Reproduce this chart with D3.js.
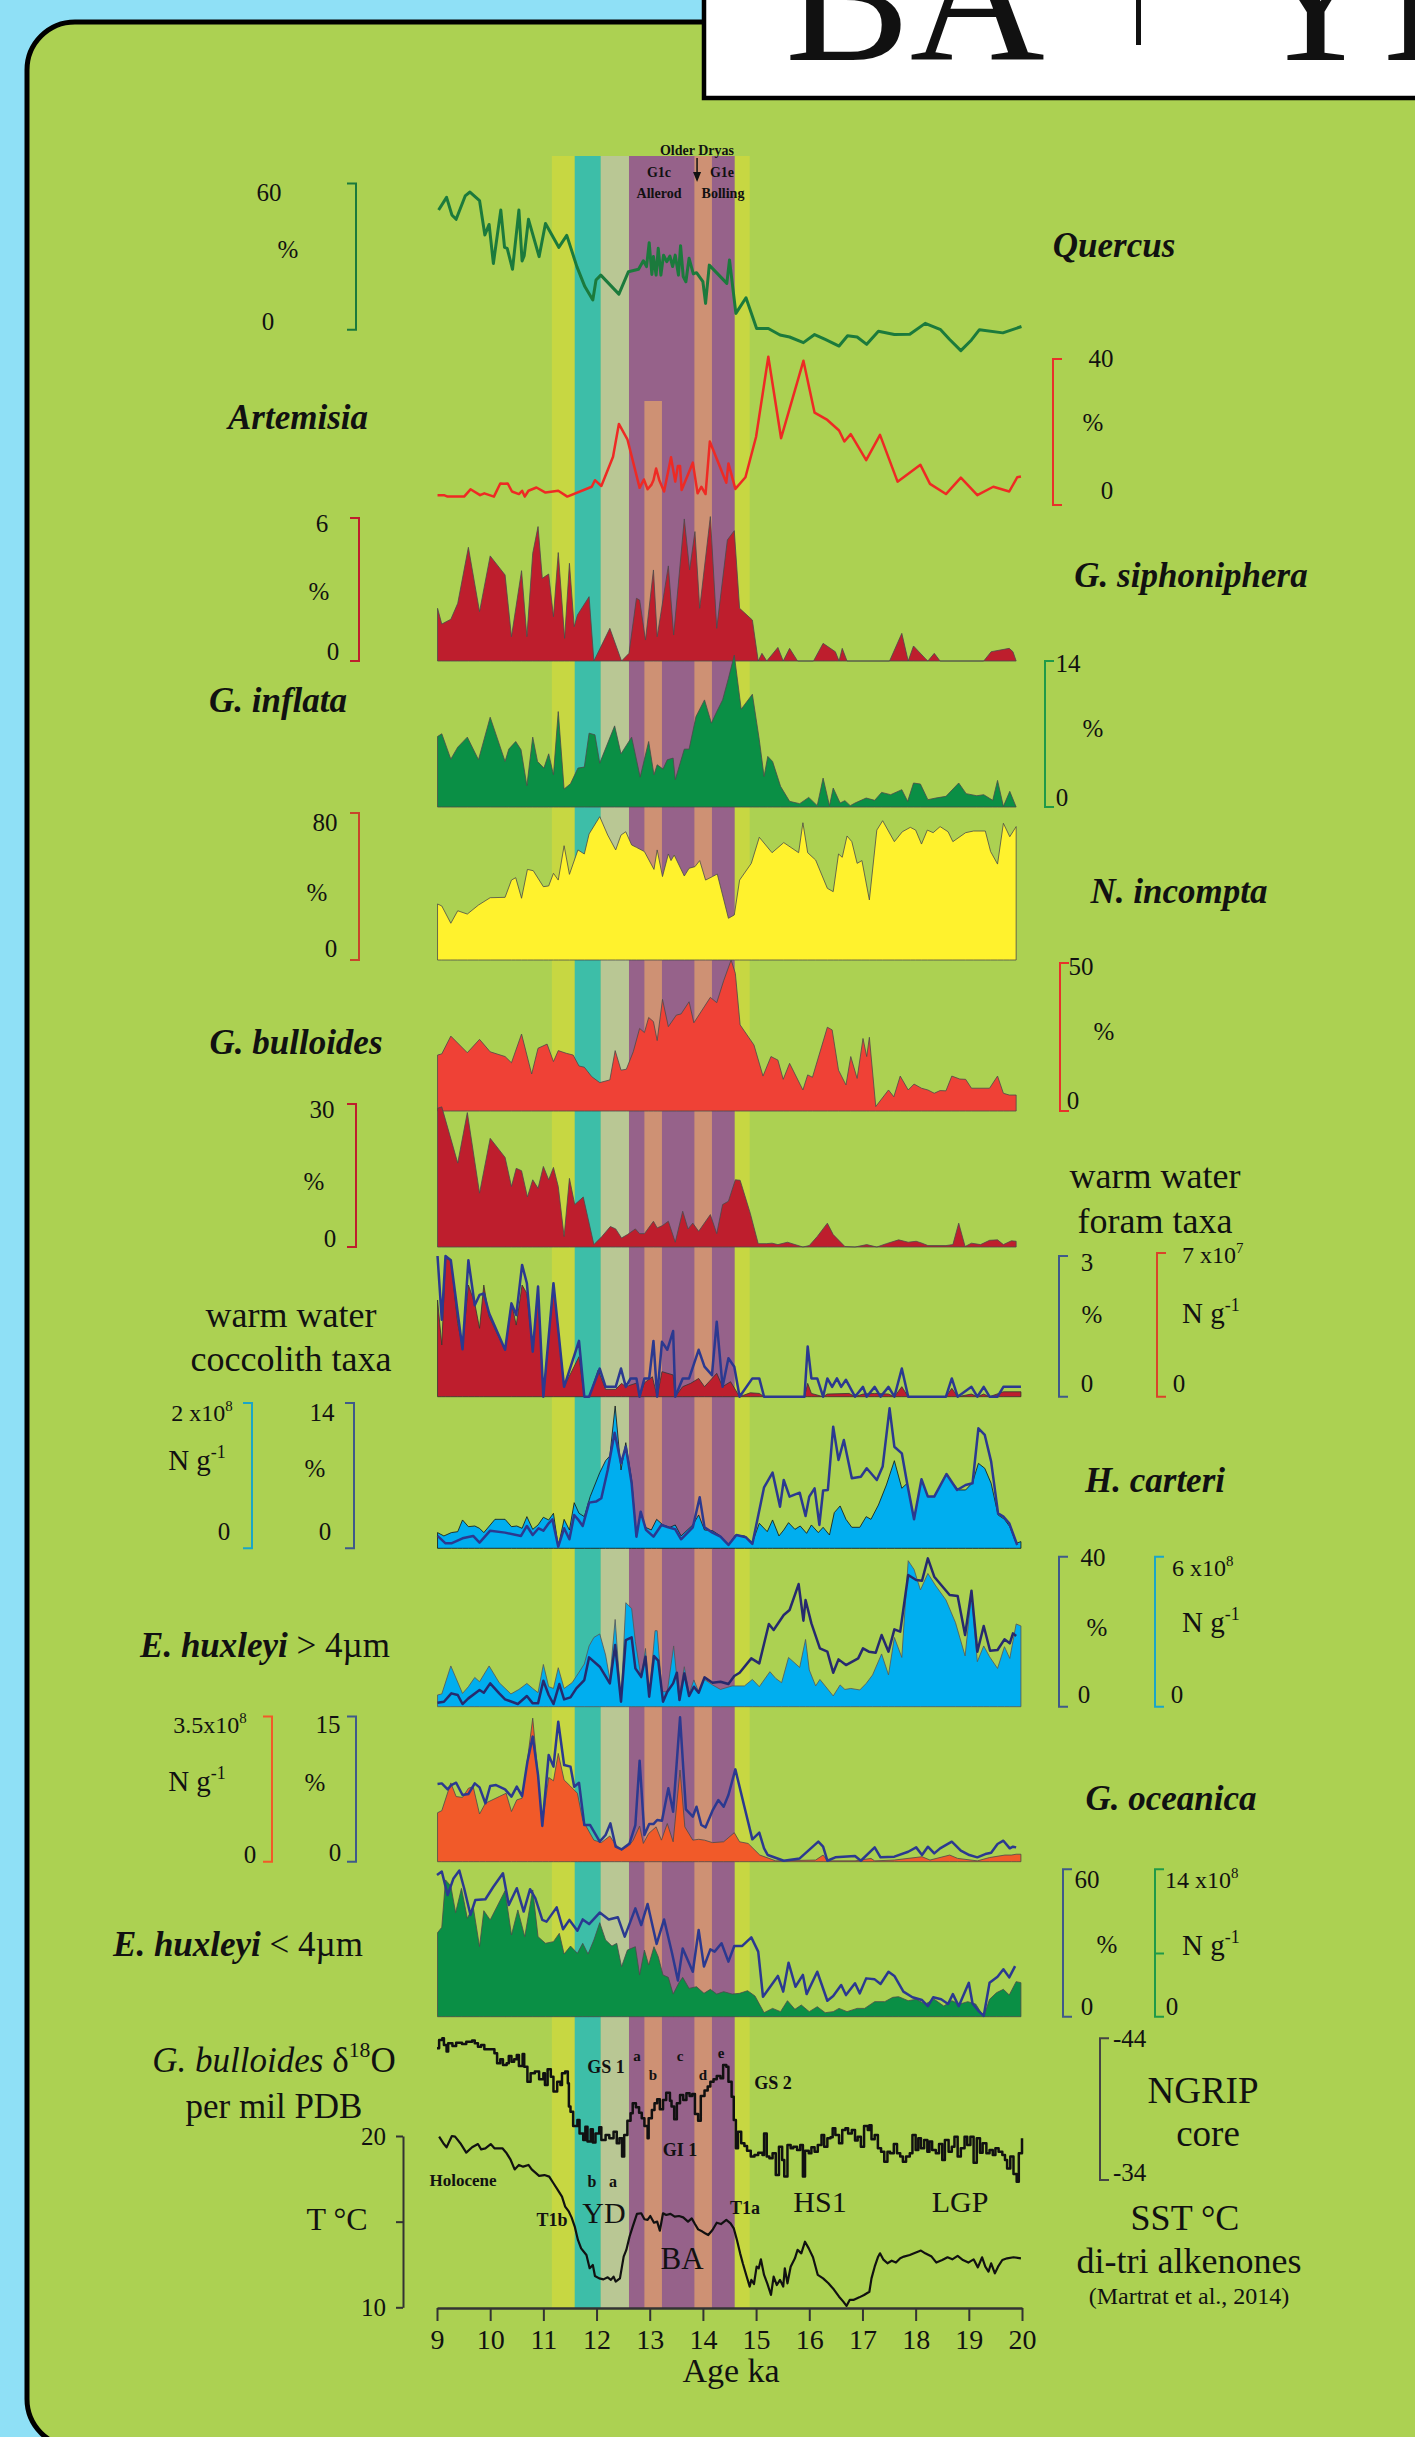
<!DOCTYPE html>
<html>
<head>
<meta charset="utf-8">
<script src="https://cdn.jsdelivr.net/npm/d3@7"></script>
<style>
  html, body { margin: 0; padding: 0; background: #8fe0f6; }
  svg { display: block; }
</style>
</head>
<body>
<svg id="chart" width="1415" height="2437"></svg>
<script>
// ---------- age axis ----------
const ageTicks = [9, 10, 11, 12, 13, 14, 15, 16, 17, 18, 19, 20];

// ---------- climate intervals (ka) ----------
const bandT1b = [11.16, 11.59];
const bandYDb = [11.59, 12.08];
const bandYDa = [12.08, 12.61];
const bandGI = [12.61, 14.60];
const bandGIb = [12.90, 13.23];
const bandGId = [13.84, 14.17];
const bandT1a = [14.60, 14.88];

// ---------- pollen (%) ----------
const quercus = [[9.03,49.1],[9.18,54.3],[9.28,47.1],[9.36,45.3],[9.53,54.9],[9.62,56.5],[9.80,53.0],[9.90,38.9],[9.98,43.2],[10.06,27.2],[10.20,49.1],[10.27,33.8],[10.32,33.4],[10.42,24.8],[10.54,49.1],[10.60,28.2],[10.64,30.4],[10.72,45.3],[10.92,30.0],[11.04,43.6],[11.29,33.8],[11.44,38.7],[11.63,25.9],[11.78,17.7],[11.93,12.2],[11.99,20.4],[12.08,22.4],[12.42,14.6],[12.60,23.8],[12.79,24.8],[12.88,28.3],[12.94,25.9],[12.99,35.7],[13.04,22.7],[13.07,30.0],[13.12,22.4],[13.16,33.4],[13.21,22.4],[13.26,30.6],[13.32,27.9],[13.38,30.2],[13.43,25.9],[13.48,30.6],[13.54,22.4],[13.58,34.5],[13.63,21.8],[13.68,19.7],[13.74,29.3],[13.82,22.9],[13.88,23.4],[14.00,19.7],[14.05,10.8],[14.12,26.5],[14.45,19.0],[14.50,28.6],[14.62,6.7],[14.81,13.1],[15.01,0.5],[15.23,0.5],[15.45,-2.2],[15.63,-3.0],[15.89,-5.3],[16.10,-2.0],[16.30,-4.0],[16.56,-6.7],[16.72,-2.5],[16.90,-3.0],[17.08,-6.0],[17.30,-0.6],[17.60,-2.0],[17.89,-1.9],[18.18,2.6],[18.47,0.0],[18.64,-4.0],[18.85,-8.6],[19.05,-4.2],[19.20,0.0],[19.64,-1.3],[19.99,1.3]];

const artemisia = [[9.01,2.7],[9.13,2.7],[9.20,2.3],[9.51,2.3],[9.63,4.3],[9.81,2.7],[9.89,3.2],[10.07,2.3],[10.19,5.9],[10.26,5.8],[10.33,5.9],[10.41,3.7],[10.54,3.0],[10.60,3.9],[10.65,2.3],[10.72,3.9],[10.87,4.8],[11.04,3.4],[11.28,3.9],[11.45,2.3],[11.91,5.0],[11.97,6.8],[12.09,5.2],[12.31,13.2],[12.42,22.2],[12.58,18.0],[12.81,4.7],[12.89,7.0],[12.96,4.3],[13.03,5.5],[13.07,6.8],[13.12,10.0],[13.18,6.8],[13.27,3.7],[13.40,13.1],[13.48,6.4],[13.53,10.7],[13.57,10.7],[13.60,4.1],[13.81,11.6],[13.90,3.2],[13.97,5.0],[14.05,3.0],[14.13,17.4],[14.44,6.1],[14.48,11.4],[14.61,4.4],[14.80,7.6],[15.00,18.7],[15.23,40.6],[15.47,18.3],[15.89,39.5],[16.10,25.3],[16.34,23.3],[16.56,20.4],[16.66,17.4],[16.78,19.4],[17.07,12.3],[17.33,19.2],[17.66,6.4],[18.09,11.0],[18.27,5.8],[18.57,3.0],[18.85,7.5],[19.16,2.7],[19.46,5.0],[19.76,3.7],[19.91,7.6],[19.98,7.8]];

// ---------- planktonic foraminifera (%) ----------
const siphonifera = [[9.01,2.21],[9.09,1.55],[9.26,1.75],[9.39,2.42],[9.59,4.77],[9.80,2.07],[10.00,4.41],[10.28,3.61],[10.40,1.02],[10.59,3.79],[10.69,1.02],[10.80,4.52],[10.90,5.64],[10.98,3.47],[11.10,3.65],[11.19,1.86],[11.28,4.55],[11.40,0.95],[11.49,4.10],[11.58,1.44],[11.64,1.93],[11.86,2.70],[11.95,0],[12.25,1.37],[12.47,0],[12.61,0.32],[12.75,2.63],[12.81,2.56],[12.92,0.88],[13.07,3.82],[13.14,1.02],[13.35,3.99],[13.45,1.09],[13.65,5.96],[13.75,3.82],[13.85,5.43],[13.94,2.21],[14.14,6.06],[14.26,1.37],[14.46,5.08],[14.59,5.47],[14.69,2.21],[14.93,1.72],[15.04,0],[15.11,0.32],[15.20,0],[15.41,0.57],[15.51,0],[15.63,0.53],[15.78,0],[16.08,0],[16.26,0.74],[16.49,0.39],[16.56,0],[16.62,0.53],[16.71,0],[17.51,0],[17.74,1.16],[17.86,0],[17.96,0.63],[18.18,0.11],[18.23,0],[18.35,0.32],[18.46,0],[19.28,0],[19.42,0.39],[19.76,0.53],[19.83,0.39],[19.89,0]];

const inflata = [[9.01,6.76],[9.09,7.02],[9.26,4.59],[9.39,5.74],[9.57,6.70],[9.78,4.53],[10.00,8.61],[10.28,4.37],[10.35,5.55],[10.48,6.28],[10.58,5.49],[10.69,2.04],[10.80,6.70],[10.89,4.37],[11.01,3.73],[11.10,5.10],[11.19,3.09],[11.28,9.15],[11.39,1.72],[11.51,2.23],[11.65,3.73],[11.77,3.83],[11.86,7.08],[11.97,6.92],[12.06,4.21],[12.34,7.78],[12.46,5.10],[12.66,6.70],[12.82,2.87],[12.98,6.28],[13.08,3.09],[13.14,4.05],[13.25,3.64],[13.33,4.53],[13.44,4.69],[13.48,2.62],[13.65,5.55],[13.74,5.55],[13.87,8.67],[14.03,10.27],[14.16,8.04],[14.26,9.15],[14.37,10.27],[14.48,12.34],[14.59,14.57],[14.72,9.38],[14.93,10.81],[15.06,6.44],[15.15,2.93],[15.22,4.85],[15.31,4.37],[15.46,1.98],[15.63,0.54],[15.82,0.32],[15.99,0.92],[16.15,0.13],[16.26,2.77],[16.38,0.13],[16.45,1.82],[16.58,0.38],[16.67,0.61],[16.77,0.13],[16.86,0.38],[17.07,0.86],[17.23,0.64],[17.36,1.40],[17.53,1.18],[17.74,1.66],[17.85,0.54],[17.96,2.30],[18.09,2.20],[18.23,0.70],[18.38,0.86],[18.57,1.02],[18.81,2.30],[18.95,1.28],[19.15,1.08],[19.28,1.18],[19.45,0.64],[19.54,2.55],[19.65,0.06],[19.77,1.50],[19.89,0]];

const incompta = [[9.01,30.5],[9.09,29.4],[9.26,20.0],[9.39,26.8],[9.57,25.0],[9.78,29.9],[10.00,33.9],[10.28,34.1],[10.40,43.5],[10.48,44.8],[10.59,33.6],[10.70,49.3],[10.81,48.6],[11.00,39.9],[11.10,40.3],[11.19,47.2],[11.28,43.5],[11.39,62.2],[11.49,46.6],[11.65,59.9],[11.77,57.7],[11.86,68.6],[12.06,78.0],[12.21,68.0],[12.36,59.9],[12.46,68.0],[12.55,69.8],[12.66,62.6],[12.75,61.3],[12.90,59.0],[13.08,49.3],[13.14,59.9],[13.24,45.4],[13.35,57.7],[13.40,54.1],[13.46,57.1],[13.65,45.7],[13.74,49.9],[13.85,50.8],[13.94,54.1],[14.05,43.5],[14.18,45.4],[14.27,46.8],[14.48,22.7],[14.59,24.5],[14.69,43.5],[14.91,52.6],[15.06,66.8],[15.30,58.4],[15.52,63.9],[15.80,58.4],[15.88,74.7],[15.97,58.4],[16.12,54.4],[16.34,39.0],[16.45,37.2],[16.55,57.7],[16.62,55.9],[16.71,67.5],[16.80,64.4],[16.90,52.6],[16.99,54.1],[17.13,32.7],[17.27,70.7],[17.38,75.8],[17.60,64.4],[17.75,69.8],[17.90,72.2],[18.00,70.7],[18.11,63.1],[18.22,70.7],[18.33,69.3],[18.46,72.6],[18.61,69.8],[18.70,64.4],[18.94,69.3],[19.09,70.2],[19.31,70.2],[19.41,59.0],[19.54,52.2],[19.65,74.4],[19.77,67.1],[19.89,72.6]];

const bulloides = [[9.01,18.9],[9.09,19.3],[9.26,25.3],[9.57,19.7],[9.80,24.2],[10.00,20.0],[10.28,18.4],[10.40,16.3],[10.59,26.0],[10.78,12.5],[10.90,21.2],[11.07,22.6],[11.19,16.7],[11.28,20.4],[11.43,19.5],[11.56,18.9],[11.67,15.2],[11.77,14.8],[11.91,11.6],[12.06,9.6],[12.25,10.5],[12.35,20.4],[12.46,13.8],[12.56,14.1],[12.69,20.0],[12.81,27.9],[12.90,26.5],[12.98,31.6],[13.07,30.2],[13.14,23.8],[13.24,37.7],[13.35,28.5],[13.50,32.4],[13.59,32.8],[13.74,36.9],[13.83,29.8],[14.14,38.4],[14.26,36.6],[14.39,44.0],[14.53,51.0],[14.61,46.5],[14.70,29.1],[14.96,22.3],[15.13,11.8],[15.28,18.4],[15.41,17.2],[15.51,10.7],[15.63,16.1],[15.88,7.1],[15.97,12.2],[16.06,11.4],[16.34,28.3],[16.43,27.4],[16.55,13.8],[16.69,8.8],[16.78,18.4],[16.90,11.0],[17.01,24.5],[17.08,18.4],[17.13,24.9],[17.25,1.5],[17.49,7.1],[17.59,4.8],[17.71,11.8],[17.86,7.1],[17.97,9.1],[18.11,7.7],[18.23,7.1],[18.35,6.0],[18.46,6.9],[18.57,6.8],[18.68,11.8],[18.83,10.8],[18.94,10.7],[19.05,7.7],[19.39,7.7],[19.54,11.8],[19.65,6.0],[19.76,5.4],[19.89,5.4]];

const warmForam = [[9.01,29.1],[9.09,29.4],[9.39,17.6],[9.57,28.2],[9.80,11.3],[10.00,22.8],[10.28,18.8],[10.40,12.7],[10.49,16.5],[10.59,16.0],[10.70,10.5],[10.80,14.1],[10.90,12.3],[11.00,16.9],[11.10,14.1],[11.19,16.7],[11.28,12.7],[11.39,2.2],[11.49,14.4],[11.59,8.9],[11.75,10.5],[11.95,0.5],[12.10,2.2],[12.26,4.3],[12.36,3.8],[12.47,1.9],[12.58,2.6],[12.73,3.8],[12.81,2.8],[12.90,2.8],[13.07,5.4],[13.14,4.0],[13.24,4.5],[13.35,5.4],[13.48,1.0],[13.62,7.5],[13.72,3.8],[13.81,5.0],[13.92,3.3],[14.14,6.8],[14.26,2.8],[14.37,8.9],[14.48,9.6],[14.61,14.1],[14.70,14.0],[14.89,7.1],[15.04,0.7],[15.19,0.7],[15.30,0.8],[15.41,0.5],[15.59,1.0],[15.88,0],[16.00,0.3],[16.15,2.2],[16.34,5.0],[16.45,2.6],[16.67,0.1],[16.86,0],[17.08,0.5],[17.27,0],[17.45,0.7],[17.68,1.5],[17.86,1.0],[18.01,1.2],[18.12,0.8],[18.23,0.3],[18.57,0.3],[18.70,0.5],[18.81,5.0],[18.93,0.1],[19.05,0.8],[19.22,0.5],[19.39,1.4],[19.54,1.5],[19.65,0.5],[19.80,1.3],[19.89,1.2]];

// ---------- coccolithophores ----------
// warm water coccolith taxa: % and absolute (x10^7 N g-1)
const coccoPct = [[9.01,3.00],[9.09,1.64],[9.16,3.00],[9.26,2.91],[9.48,1.01],[9.59,2.91],[9.71,1.95],[9.80,2.17],[9.88,2.20],[9.98,1.78],[10.28,1.00],[10.40,1.99],[10.49,1.74],[10.60,2.81],[10.69,2.42],[10.80,0.96],[10.90,2.35],[11.00,0],[11.19,2.42],[11.39,0.21],[11.67,1.19],[11.77,0],[11.86,0],[12.06,0.60],[12.17,0.21],[12.36,0.21],[12.46,0.60],[12.55,0.21],[12.64,0.39],[12.75,0.39],[12.81,0],[12.90,0.39],[12.99,0.39],[13.07,1.19],[13.14,0],[13.23,1.17],[13.33,1.00],[13.44,1.40],[13.48,0],[13.62,0.39],[13.74,0.39],[13.92,1.00],[14.03,0.64],[14.17,0.46],[14.26,1.60],[14.37,0.21],[14.48,0.82],[14.59,0.64],[14.69,0],[14.93,0.39],[15.06,0.39],[15.15,0],[15.91,0],[15.97,1.07],[16.04,0.39],[16.15,0.39],[16.26,0],[16.34,0.39],[16.43,0.21],[16.52,0.39],[16.60,0.21],[16.69,0.36],[16.86,0],[17.01,0.21],[17.08,0],[17.23,0.21],[17.34,0],[17.49,0.21],[17.60,0],[17.74,0.60],[17.86,0],[18.57,0],[18.68,0.39],[18.79,0],[19.05,0.21],[19.16,0],[19.28,0.21],[19.39,0],[19.54,0],[19.65,0.21],[19.98,0.21]];
const coccoAbs = [[9.01,4.71],[9.09,2.52],[9.16,6.74],[9.26,6.66],[9.39,3.57],[9.48,2.44],[9.59,5.44],[9.71,4.55],[9.80,3.33],[9.88,5.44],[9.98,3.90],[10.28,2.27],[10.40,4.58],[10.49,3.49],[10.60,5.44],[10.69,5.03],[10.80,2.19],[10.90,5.36],[11.00,0],[11.19,5.52],[11.39,0.49],[11.67,1.95],[11.77,0],[11.86,0],[12.03,1.30],[12.17,0.36],[12.36,0.36],[12.47,0.65],[12.55,0.49],[12.77,0.68],[12.81,0],[12.90,0.68],[13.05,0.97],[13.14,0],[13.23,1.22],[13.44,1.06],[13.48,0],[13.62,0.49],[13.77,0.65],[13.92,0.89],[14.03,0.49],[14.26,1.14],[14.37,0.49],[14.52,0.73],[14.69,0],[14.89,0.19],[15.06,0.16],[15.15,0],[15.91,0],[15.97,0.65],[16.04,0.16],[16.26,0],[16.34,0.13],[16.75,0.16],[16.86,0],[17.01,0.13],[17.23,0.16],[17.49,0.13],[17.60,0],[17.74,0.49],[17.86,0],[18.57,0],[18.68,0.41],[18.79,0],[19.05,0.13],[19.16,0],[19.28,0.13],[19.39,0],[19.65,0.24],[19.98,0.24]];

// H. carteri: absolute (x10^8 N g-1) and %
const carteriAbs = [[9.01,0.216],[9.13,0.170],[9.27,0.216],[9.39,0.229],[9.48,0.390],[9.59,0.298],[9.71,0.307],[9.80,0.275],[9.88,0.216],[10.09,0.399],[10.28,0.399],[10.40,0.298],[10.50,0.307],[10.60,0.275],[10.69,0.436],[10.80,0.261],[10.90,0.321],[11.00,0.427],[11.10,0.390],[11.19,0.482],[11.28,0.023],[11.39,0.399],[11.49,0.252],[11.58,0.628],[11.67,0.482],[11.77,0.436],[11.88,0.711],[12.06,1.041],[12.17,1.206],[12.25,1.271],[12.35,1.959],[12.46,1.078],[12.55,1.454],[12.66,0.940],[12.75,0.161],[12.83,0.505],[12.92,0.289],[13.03,0.252],[13.13,0.399],[13.25,0.321],[13.38,0.289],[13.48,0.321],[13.59,0.170],[13.81,0.321],[13.92,0.459],[14.03,0.252],[14.18,0.243],[14.33,0.170],[14.48,0.046],[14.61,0.183],[14.78,0.170],[14.93,0.078],[15.06,0.344],[15.21,0.229],[15.31,0.390],[15.43,0.170],[15.52,0.252],[15.61,0.353],[15.73,0.261],[15.83,0.307],[15.95,0.206],[16.04,0.321],[16.17,0.216],[16.26,0.289],[16.38,0.183],[16.47,0.491],[16.58,0.583],[16.69,0.399],[16.80,0.289],[16.95,0.289],[17.07,0.436],[17.16,0.399],[17.30,0.596],[17.45,0.872],[17.60,1.206],[17.74,0.826],[17.84,0.894],[17.97,0.399],[18.11,0.940],[18.23,0.711],[18.35,0.711],[18.58,1.032],[18.70,0.894],[18.81,0.803],[18.94,0.803],[19.07,0.904],[19.18,1.170],[19.30,1.101],[19.42,0.894],[19.55,0.459],[19.67,0.399],[19.77,0.298],[19.89,0.069],[19.98,0.092]];
const carteriPct = [[9.01,1.19],[9.16,0.48],[9.27,0.48],[9.48,0.96],[9.68,1.19],[9.80,0.55],[10.00,1.70],[10.28,1.51],[10.58,1.19],[10.69,2.15],[10.80,1.28],[10.91,1.93],[11.00,1.70],[11.10,2.41],[11.17,2.79],[11.28,0.16],[11.39,1.93],[11.49,0.87],[11.58,3.21],[11.65,2.79],[11.74,2.15],[11.86,4.40],[11.99,4.50],[12.09,4.82],[12.21,7.55],[12.34,11.14],[12.46,8.19],[12.55,9.79],[12.66,6.26],[12.75,1.12],[12.83,3.53],[12.93,1.77],[13.07,1.12],[13.22,2.25],[13.35,2.02],[13.48,1.83],[13.59,0.87],[13.81,2.02],[13.94,4.91],[14.03,2.02],[14.18,1.51],[14.33,1.12],[14.48,0.32],[14.63,1.28],[14.81,1.06],[14.93,0.42],[15.15,5.88],[15.31,7.29],[15.45,4.01],[15.52,6.58],[15.63,4.98],[15.82,5.36],[15.93,3.11],[16.00,4.98],[16.10,5.78],[16.19,2.25],[16.26,5.56],[16.35,5.62],[16.45,11.72],[16.55,8.51],[16.65,10.44],[16.80,6.74],[16.97,6.90],[17.08,7.71],[17.27,6.58],[17.38,7.87],[17.51,13.49],[17.60,9.79],[17.74,9.15],[17.84,6.26],[17.97,2.79],[18.11,6.65],[18.23,4.98],[18.35,4.98],[18.58,7.16],[18.78,5.62],[18.94,6.10],[19.07,6.26],[19.18,11.56],[19.30,10.92],[19.42,8.35],[19.55,3.37],[19.65,3.05],[19.76,2.41],[19.91,0.32]];

// E. huxleyi > 4 um: absolute (x10^8 N g-1) and %
const huxLargeAbs = [[9.01,0.47],[9.09,0.51],[9.26,1.63],[9.48,0.53],[9.59,0.80],[9.71,1.17],[9.80,1.00],[9.98,1.63],[10.17,0.96],[10.39,0.51],[10.54,0.69],[10.69,0.93],[10.80,0.73],[10.90,0.56],[11.00,1.69],[11.10,0.80],[11.19,0.73],[11.28,1.56],[11.39,0.73],[11.54,0.96],[11.65,1.31],[11.77,1.71],[11.86,2.43],[11.95,2.77],[12.06,2.91],[12.17,2.07],[12.25,1.09],[12.35,3.49],[12.46,0.20],[12.55,4.16],[12.66,3.93],[12.73,2.60],[12.84,1.13],[12.92,2.33],[12.99,0.40],[13.10,3.04],[13.14,3.04],[13.23,0.60],[13.33,0.60],[13.45,2.43],[13.55,0.29],[13.65,1.60],[13.74,0.51],[13.83,1.07],[13.92,0.60],[14.03,1.09],[14.18,0.87],[14.33,0.69],[14.55,0.83],[14.78,0.83],[14.93,1.09],[15.06,0.80],[15.26,1.40],[15.37,1.13],[15.48,0.96],[15.61,1.97],[15.82,1.57],[15.93,2.69],[16.00,1.47],[16.12,0.83],[16.20,1.09],[16.45,0.43],[16.58,0.87],[16.67,0.69],[16.78,0.73],[16.95,0.67],[17.07,0.93],[17.19,1.27],[17.36,2.11],[17.49,1.27],[17.60,2.77],[17.74,1.97],[17.86,5.84],[17.97,5.49],[18.09,4.67],[18.23,5.33],[18.38,4.83],[18.57,4.27],[18.75,3.36],[18.93,2.03],[19.05,4.51],[19.16,1.80],[19.28,2.43],[19.39,2.00],[19.54,1.53],[19.67,2.40],[19.77,1.93],[19.89,3.31],[19.98,3.23]];
const huxLargePct = [[9.01,1.07],[9.13,1.33],[9.27,3.56],[9.39,3.11],[9.48,0.71],[9.59,2.22],[9.80,4.44],[9.88,3.73],[10.00,6.22],[10.17,3.56],[10.28,1.96],[10.52,0.71],[10.69,2.84],[10.80,0.89],[10.90,0.89],[11.00,6.93],[11.10,3.11],[11.19,0.71],[11.30,6.04],[11.39,1.96],[11.51,2.49],[11.62,4.89],[11.77,7.11],[11.86,13.16],[12.06,10.67],[12.25,6.22],[12.35,16.44],[12.46,1.33],[12.55,17.78],[12.66,18.49],[12.73,10.22],[12.84,8.00],[12.92,13.33],[12.99,2.67],[13.08,13.51],[13.16,12.27],[13.25,1.33],[13.33,4.00],[13.44,6.22],[13.51,9.07],[13.56,1.78],[13.65,8.89],[13.74,2.84],[13.83,5.33],[13.92,3.73],[14.03,7.82],[14.18,6.40],[14.33,6.67],[14.48,6.04],[14.59,8.18],[14.69,9.07],[14.91,12.89],[15.06,11.56],[15.24,22.04],[15.33,20.44],[15.52,24.44],[15.63,25.78],[15.80,32.71],[15.89,22.93],[15.93,28.44],[16.04,22.22],[16.20,15.56],[16.34,14.67],[16.45,9.07],[16.55,12.62],[16.69,11.11],[16.92,12.89],[17.01,15.56],[17.12,14.67],[17.25,14.40],[17.36,19.11],[17.49,14.67],[17.60,20.62],[17.71,20.00],[17.86,35.11],[18.01,33.78],[18.12,33.60],[18.23,39.56],[18.35,34.67],[18.48,32.44],[18.64,29.78],[18.79,29.51],[18.93,19.11],[19.05,30.93],[19.16,14.67],[19.28,21.51],[19.40,14.93],[19.54,15.11],[19.67,17.96],[19.77,16.89],[19.83,19.56],[19.89,18.84]];

// G. oceanica: absolute (x10^8 N g-1) and %
const oceanicaAbs = [[9.01,1.18],[9.09,1.23],[9.26,1.90],[9.36,1.57],[9.48,1.55],[9.59,1.77],[9.68,1.81],[9.80,1.15],[9.91,1.41],[10.17,1.57],[10.30,1.65],[10.40,1.21],[10.50,1.49],[10.60,1.53],[10.70,2.45],[10.80,3.46],[10.90,2.09],[10.98,0.92],[11.10,2.03],[11.19,1.95],[11.28,2.61],[11.39,1.97],[11.51,1.82],[11.64,1.65],[11.74,1.00],[11.95,0.52],[12.09,0.46],[12.25,0.62],[12.34,0.44],[12.47,0.28],[12.62,0.40],[12.69,0.52],[12.81,0.86],[12.88,0.44],[12.98,0.68],[13.12,0.84],[13.22,0.52],[13.33,0.92],[13.44,0.48],[13.57,2.21],[13.66,0.84],[13.81,0.52],[13.92,0.54],[14.03,0.52],[14.18,0.46],[14.39,0.48],[14.59,0.70],[14.69,0.48],[14.85,0.44],[15.07,0.16],[15.37,0.02],[16.12,0.04],[16.26,0.16],[16.34,0.02],[16.86,0.02],[17.16,0.08],[17.23,0.02],[17.60,0.04],[18.12,0.12],[18.27,0.04],[18.64,0.16],[18.79,0.08],[19.16,0.02],[19.39,0.10],[19.68,0.16],[19.80,0.16],[19.89,0.18],[19.98,0.18]];
const oceanicaPct = [[9.01,8.02],[9.09,8.09],[9.20,7.47],[9.27,7.92],[9.36,8.16],[9.48,6.89],[9.59,6.99],[9.71,8.09],[9.80,7.68],[9.91,6.03],[10.00,7.82],[10.11,7.92],[10.28,7.47],[10.40,6.72],[10.50,7.75],[10.60,6.78],[10.70,10.33],[10.80,12.92],[10.90,8.95],[10.98,3.69],[11.10,11.02],[11.19,9.82],[11.28,14.46],[11.39,9.99],[11.51,9.82],[11.58,7.75],[11.67,8.16],[11.77,3.79],[11.88,3.79],[12.06,2.07],[12.17,2.76],[12.26,3.96],[12.36,1.55],[12.47,1.27],[12.62,1.89],[12.73,3.79],[12.81,10.44],[12.90,2.76],[12.99,3.89],[13.07,3.89],[13.14,4.31],[13.23,4.24],[13.35,7.58],[13.44,5.17],[13.57,14.91],[13.68,5.41],[13.81,4.65],[13.88,5.68],[13.97,3.79],[14.05,3.55],[14.18,5.27],[14.29,6.37],[14.39,5.68],[14.48,6.89],[14.61,9.54],[14.78,5.68],[14.93,2.31],[15.06,3.00],[15.15,1.38],[15.22,0.69],[15.52,0.10],[15.82,0.34],[16.17,2.07],[16.26,1.55],[16.34,0.10],[16.49,0.45],[16.86,0.59],[16.97,0.10],[17.23,1.48],[17.34,0.45],[17.60,0.52],[17.86,1.03],[18.01,1.48],[18.12,0.69],[18.23,1.55],[18.35,0.86],[18.46,1.38],[18.68,2.07],[18.85,1.14],[19.01,0.69],[19.16,0.45],[19.31,0.79],[19.42,0.93],[19.54,1.83],[19.65,2.17],[19.77,1.38],[19.83,1.55],[19.89,1.48]];

// E. huxleyi < 4 um: absolute (x10^8 N g-1) and %
const huxSmallAbs = [[9.01,7.98],[9.09,8.49],[9.16,12.99],[9.26,12.42],[9.35,9.88],[9.46,12.19],[9.57,9.34],[9.68,10.45],[9.80,6.65],[9.88,10.07],[10.00,9.19],[10.28,11.97],[10.40,7.76],[10.52,10.14],[10.65,7.60],[10.80,12.04],[10.90,7.60],[11.04,6.97],[11.19,7.13],[11.30,7.92],[11.39,5.95],[11.51,6.71],[11.64,6.02],[11.74,6.97],[11.84,5.95],[11.95,7.29],[12.06,8.93],[12.17,7.29],[12.29,6.71],[12.38,6.97],[12.47,4.75],[12.58,6.33],[12.73,6.65],[12.81,3.96],[12.90,6.33],[12.98,4.91],[13.08,6.65],[13.16,5.70],[13.25,3.96],[13.35,3.74],[13.44,2.15],[13.55,3.23],[13.62,3.74],[13.74,2.69],[13.88,2.85],[14.02,2.22],[14.14,2.60],[14.26,2.15],[14.39,2.38],[14.55,2.15],[14.69,2.22],[14.84,2.47],[14.98,1.96],[15.15,0.38],[15.31,0.79],[15.46,0.48],[15.59,1.52],[15.73,0.70],[15.85,1.11],[16.00,0.48],[16.15,0.95],[16.30,0.38],[16.45,0.48],[16.56,0.79],[16.71,0.48],[16.90,0.79],[17.04,0.79],[17.23,1.43],[17.42,1.43],[17.57,1.84],[17.68,1.90],[17.86,1.52],[18.01,1.65],[18.18,1.20],[18.35,1.65],[18.53,1.01],[18.68,1.52],[18.83,1.20],[18.98,1.43],[19.13,1.20],[19.28,0],[19.39,1.65],[19.52,2.28],[19.65,2.60],[19.76,2.06],[19.89,3.33],[19.98,3.23]];
const huxSmallPct = [[9.00,57.7],[9.09,59.1],[9.20,49.5],[9.31,56.3],[9.42,59.5],[9.51,52.3],[9.63,41.4],[9.72,47.5],[9.91,47.8],[10.06,52.9],[10.24,58.4],[10.35,45.5],[10.50,52.3],[10.63,42.8],[10.75,51.9],[10.85,48.2],[10.98,39.4],[11.06,38.7],[11.25,44.5],[11.37,35.6],[11.49,39.4],[11.64,35.0],[11.74,39.6],[11.86,37.7],[12.06,42.4],[12.23,39.6],[12.40,40.5],[12.53,32.6],[12.73,44.1],[12.84,37.3],[12.96,45.9],[13.13,29.6],[13.27,39.6],[13.42,25.8],[13.53,14.7],[13.62,27.8],[13.81,18.3],[13.92,35.3],[14.02,20.4],[14.14,27.4],[14.22,26.5],[14.35,29.9],[14.48,22.4],[14.59,28.8],[14.74,28.8],[14.91,32.3],[15.04,26.5],[15.13,8.1],[15.41,16.6],[15.51,10.2],[15.61,22.0],[15.74,12.2],[15.88,17.0],[15.95,9.2],[16.15,18.3],[16.34,6.5],[16.45,8.4],[16.60,12.9],[16.69,8.8],[16.86,13.6],[16.95,9.5],[17.07,15.6],[17.23,15.2],[17.34,13.3],[17.49,18.3],[17.60,16.6],[17.77,10.2],[17.94,7.9],[18.12,6.8],[18.23,4.3],[18.33,7.9],[18.48,7.1],[18.61,5.2],[18.70,9.2],[18.81,4.3],[19.00,13.8],[19.07,5.4],[19.18,2.4],[19.28,0.3],[19.39,13.8],[19.54,16.3],[19.65,19.3],[19.76,16.0],[19.87,20.6]];

// ---------- NGRIP d18O (per mil) and alkenone SST (deg C) ----------
const ngrip = [[9.00,-43.29],[9.04,-43.88],[9.10,-44.00],[9.13,-43.53],[9.18,-43.06],[9.21,-43.65],[9.29,-43.46],[9.36,-43.69],[9.47,-43.60],[9.55,-43.76],[9.66,-43.84],[9.71,-43.65],[9.77,-43.41],[9.83,-43.53],[9.89,-43.22],[10.01,-43.22],[10.08,-42.94],[10.13,-42.24],[10.19,-42.52],[10.24,-42.12],[10.31,-42.24],[10.35,-42.75],[10.40,-42.35],[10.45,-42.52],[10.50,-42.82],[10.54,-42.05],[10.61,-42.89],[10.64,-42.00],[10.70,-40.94],[10.76,-41.53],[10.84,-41.65],[10.92,-41.11],[11.00,-41.53],[11.03,-40.71],[11.08,-41.81],[11.14,-41.29],[11.19,-40.24],[11.26,-40.94],[11.32,-40.71],[11.35,-41.53],[11.41,-41.65],[11.46,-40.82],[11.48,-39.18],[11.51,-38.82],[11.56,-37.81],[11.64,-38.24],[11.68,-37.29],[11.75,-36.82],[11.79,-37.76],[11.83,-36.71],[11.89,-37.58],[11.93,-36.64],[11.98,-37.29],[12.05,-37.72],[12.09,-36.82],[12.17,-37.18],[12.24,-36.94],[12.32,-37.41],[12.38,-36.59],[12.43,-36.94],[12.48,-35.65],[12.52,-37.18],[12.58,-38.19],[12.64,-38.71],[12.68,-39.41],[12.74,-39.13],[12.80,-38.75],[12.85,-38.35],[12.90,-37.81],[12.96,-36.94],[12.98,-38.35],[13.04,-38.94],[13.09,-39.41],[13.14,-39.69],[13.19,-38.99],[13.25,-39.65],[13.31,-40.16],[13.38,-39.60],[13.41,-39.18],[13.46,-38.28],[13.51,-39.41],[13.57,-40.00],[13.63,-39.65],[13.69,-40.12],[13.75,-39.93],[13.80,-40.07],[13.85,-38.66],[13.91,-38.19],[13.96,-39.93],[14.03,-40.31],[14.09,-40.59],[14.14,-40.94],[14.20,-41.11],[14.26,-41.34],[14.33,-41.18],[14.38,-42.12],[14.44,-42.00],[14.48,-40.94],[14.54,-39.88],[14.58,-38.24],[14.62,-36.24],[14.66,-37.41],[14.72,-36.59],[14.78,-36.40],[14.83,-36.07],[14.90,-35.65],[14.97,-35.76],[15.04,-35.93],[15.12,-35.76],[15.15,-37.29],[15.20,-35.65],[15.25,-35.53],[15.31,-35.88],[15.37,-34.35],[15.43,-36.35],[15.49,-35.41],[15.53,-34.24],[15.59,-36.47],[15.65,-36.24],[15.70,-36.35],[15.77,-36.12],[15.83,-36.47],[15.88,-34.24],[15.92,-36.07],[15.99,-35.88],[16.04,-36.31],[16.10,-36.00],[16.16,-36.47],[16.23,-37.18],[16.28,-36.35],[16.34,-36.94],[16.40,-37.01],[16.44,-37.65],[16.49,-37.18],[16.56,-36.59],[16.62,-37.53],[16.68,-37.65],[16.73,-37.29],[16.80,-37.53],[16.86,-36.78],[16.91,-37.06],[16.97,-36.35],[17.03,-37.81],[17.10,-37.53],[17.13,-37.86],[17.17,-36.87],[17.23,-37.18],[17.29,-36.24],[17.35,-36.00],[17.41,-35.29],[17.47,-36.00],[17.52,-35.88],[17.59,-36.54],[17.65,-35.88],[17.71,-35.65],[17.76,-35.29],[17.82,-35.65],[17.89,-35.88],[17.94,-37.18],[18.00,-36.12],[18.05,-36.94],[18.10,-36.24],[18.16,-36.82],[18.22,-36.00],[18.26,-36.71],[18.31,-36.12],[18.38,-35.88],[18.44,-36.54],[18.50,-35.41],[18.55,-36.82],[18.62,-36.00],[18.68,-36.35],[18.73,-37.06],[18.79,-35.65],[18.85,-36.24],[18.92,-37.06],[18.97,-36.47],[19.03,-37.06],[19.09,-35.22],[19.15,-36.94],[19.21,-35.93],[19.26,-36.59],[19.33,-35.88],[19.39,-36.12],[19.45,-35.76],[19.50,-36.24],[19.56,-36.00],[19.63,-35.76],[19.68,-35.41],[19.72,-34.82],[19.78,-35.65],[19.84,-34.42],[19.90,-33.88],[19.94,-35.88],[20.00,-36.94]];

const sst = [[9.04,19.96],[9.13,19.53],[9.18,19.34],[9.28,20.00],[9.34,19.96],[9.45,19.53],[9.55,19.03],[9.66,19.34],[9.77,19.53],[9.83,19.22],[9.91,19.28],[10.01,19.53],[10.08,19.28],[10.23,19.28],[10.31,18.99],[10.38,18.64],[10.46,18.05],[10.54,18.31],[10.62,18.21],[10.72,18.31],[10.78,18.05],[10.92,17.67],[11.02,17.72],[11.11,17.63],[11.19,17.24],[11.27,16.85],[11.35,16.46],[11.41,15.88],[11.48,15.58],[11.53,15.25],[11.59,14.71],[11.65,13.93],[11.71,13.44],[11.81,13.05],[11.87,12.28],[11.93,12.47],[11.97,11.83],[12.05,11.69],[12.13,11.63],[12.21,11.75],[12.27,11.60],[12.32,11.79],[12.36,11.50],[12.44,11.69],[12.51,12.96],[12.56,13.35],[12.62,14.12],[12.68,14.71],[12.76,15.45],[12.84,15.49],[12.90,15.14],[12.96,15.10],[13.01,15.33],[13.08,14.94],[13.14,15.00],[13.19,14.47],[13.25,15.49],[13.31,15.39],[13.39,15.45],[13.47,15.29],[13.55,15.33],[13.63,15.25],[13.72,15.00],[13.79,15.19],[13.85,14.86],[13.91,14.55],[13.99,14.42],[14.04,14.32],[14.10,14.22],[14.18,14.51],[14.26,14.94],[14.34,14.86],[14.44,15.10],[14.52,14.90],[14.58,14.61],[14.64,13.93],[14.70,13.15],[14.75,12.57],[14.82,11.83],[14.88,11.21],[14.91,11.60],[14.96,11.36],[15.01,12.37],[15.05,12.28],[15.09,12.80],[15.15,11.89],[15.21,11.40],[15.28,10.72],[15.33,11.79],[15.39,11.30],[15.45,11.60],[15.51,11.21],[15.54,12.28],[15.59,11.40],[15.65,12.37],[15.73,12.86],[15.78,13.35],[15.85,13.15],[15.92,13.83],[15.99,13.44],[16.07,12.92],[16.16,11.89],[16.26,11.69],[16.36,11.40],[16.46,11.05],[16.56,10.62],[16.64,10.33],[16.70,10.08],[16.76,10.43],[16.83,10.43],[16.94,10.58],[17.03,10.72],[17.13,10.91],[17.17,11.69],[17.23,12.37],[17.29,12.92],[17.33,13.15],[17.39,12.80],[17.47,12.57],[17.55,12.72],[17.63,12.61],[17.71,12.86],[17.78,12.96],[17.89,13.05],[17.97,13.15],[18.10,13.31],[18.18,13.15],[18.30,12.96],[18.39,12.61],[18.50,12.76],[18.60,12.92],[18.69,12.80],[18.79,13.00],[18.89,12.76],[18.99,12.61],[19.09,12.80],[19.17,12.33],[19.25,12.92],[19.31,12.37],[19.37,12.08],[19.42,12.57],[19.49,11.98],[19.55,12.37],[19.63,12.76],[19.72,12.86],[19.84,12.92],[19.98,12.86]];

// ================= drawing =================
const FONT = "'Liberation Serif', 'Times New Roman', serif";
const svg = d3.select('#chart');
const G = svg.append('g');

const x = d3.scaleLinear().domain([9, 20]).range([437, 1022]);
const AXIS_Y = 2308;
const BAND_TOP = 156;

// per-panel value scales
const yQuercus   = d3.scaleLinear().domain([0, 60]).range([329.7, 183.5]);
const yArtemisia = d3.scaleLinear().domain([0, 40]).range([505, 359]);
const ySiph      = d3.scaleLinear().domain([0, 6]).range([661, 518]);
const yInfl      = d3.scaleLinear().domain([0, 14]).range([807, 661]);
const yIncompta  = d3.scaleLinear().domain([0, 80]).range([960, 813]);
const yBull      = d3.scaleLinear().domain([0, 50]).range([1111, 963]);
const yForam     = d3.scaleLinear().domain([0, 30]).range([1247, 1104]);
const yCoccoPct  = d3.scaleLinear().domain([0, 3]).range([1396.7, 1256]);
const yCoccoAbs  = d3.scaleLinear().domain([0, 7]).range([1396.7, 1253]);
const yCarPct    = d3.scaleLinear().domain([0, 14]).range([1548.3, 1403]);
const yCarAbs    = d3.scaleLinear().domain([0, 2]).range([1548.3, 1403]);
const yHuxLPct   = d3.scaleLinear().domain([0, 40]).range([1706.7, 1556.7]);
const yHuxLAbs   = d3.scaleLinear().domain([0, 6]).range([1706.7, 1556.7]);
const yOceAbs    = d3.scaleLinear().domain([0, 3.5]).range([1861.7, 1716.5]);
const yOcePct    = d3.scaleLinear().domain([0, 15]).range([1861.7, 1716.5]);
const yHuxSPct   = d3.scaleLinear().domain([0, 60]).range([2016.7, 1869.3]);
const yHuxSAbs   = d3.scaleLinear().domain([0, 14]).range([2016.7, 1869.3]);
const yNgrip     = d3.scaleLinear().domain([-44, -34]).range([2038.3, 2180]);
const ySST       = d3.scaleLinear().domain([10, 20]).range([2307.3, 2136]);

// ---------- frame ----------
G.append('rect').attr('x', 27).attr('y', 22).attr('width', 1450).attr('height', 2425)
  .attr('rx', 48).attr('ry', 48).attr('fill', '#acd152').attr('stroke', '#000').attr('stroke-width', 5);

// ---------- interval bands ----------
const bands = [
  { r: bandT1b, c: '#c7d742', top: BAND_TOP },
  { r: bandYDb, c: '#3dbea8', top: BAND_TOP },
  { r: bandYDa, c: '#b9c794', top: BAND_TOP },
  { r: bandGI,  c: '#96628a', top: BAND_TOP },
  { r: bandGIb, c: '#ce9174', top: 401 },
  { r: bandGId, c: '#ce9174', top: BAND_TOP },
  { r: bandT1a, c: '#c7d742', top: BAND_TOP }
];
G.append('g').selectAll('rect').data(bands).join('rect')
  .attr('x', d => x(d.r[0])).attr('width', d => x(d.r[1]) - x(d.r[0]))
  .attr('y', d => d.top).attr('height', d => AXIS_Y - d.top)
  .attr('fill', d => d.c);

// ---------- helpers ----------
function label(px, py, parts, size, anchor, extra) {
  const t = G.append('text').attr('x', px).attr('y', py)
    .attr('font-family', FONT).attr('font-size', size)
    .attr('text-anchor', anchor || 'middle').attr('fill', '#111');
  if (extra) Object.entries(extra).forEach(([k, v]) => t.attr(k, v));
  if (typeof parts === 'string') { t.text(parts); return t; }
  let shift = 0;
  parts.forEach(p => {
    const [str, mode] = Array.isArray(p) ? p : [p, ''];
    const ts = t.append('tspan').text(str);
    let want = 0;
    if (mode === 'sup') { want = -size * 0.42; ts.attr('font-size', size * 0.62); }
    if (want - shift !== 0) ts.attr('dy', want - shift);
    shift = want;
    if (mode === 'bi') ts.attr('font-weight', 'bold').attr('font-style', 'italic');
    if (mode === 'i') ts.attr('font-style', 'italic');
  });
  return t;
}

function bracket(s, top, bot, bx, dir, color, mid) {
  let p = `M${bx + dir * 9},${s(top)}H${bx}V${s(bot)}H${bx + dir * 9}`;
  if (mid !== undefined) p += `M${bx},${s(mid)}H${bx + dir * 9}`;
  G.append('path').attr('d', p).attr('fill', 'none').attr('stroke', color).attr('stroke-width', 2);
}

function area(data, s, fill, stroke) {
  const a = d3.area().x(d => x(d[0])).y0(s(0)).y1(d => s(d[1]));
  G.append('path').datum(data).attr('d', a).attr('fill', fill)
    .attr('stroke', stroke || '#4a4a4a').attr('stroke-width', 0.8).attr('stroke-linejoin', 'round');
}

function line(data, s, color, width, curve) {
  const l = d3.line().x(d => x(d[0])).y(d => s(d[1])).curve(curve || d3.curveLinear);
  G.append('path').datum(data).attr('d', l).attr('fill', 'none')
    .attr('stroke', color).attr('stroke-width', width).attr('stroke-linejoin', 'round');
}

const NAVY = '#2b3990';
const BLUEGREY = '#3f5a8a';
const TITLE = 35, NUM = 25;

// ---------- Quercus ----------
line(quercus, yQuercus, '#1b7a3c', 3);
bracket(yQuercus, 60, 0, 356, -1, '#1b7a3c');
label(269, 201, '60', NUM); label(288, 258, '%', NUM); label(268, 330, '0', NUM);
label(1114, 257, [['Quercus', 'bi']], TITLE);

// ---------- Artemisia ----------
line(artemisia, yArtemisia, '#ee2a24', 2.5);
bracket(yArtemisia, 40, 0, 1053, 1, '#e8312a');
label(1101, 367, '40', NUM); label(1093, 431, '%', NUM); label(1107, 499, '0', NUM);
label(298, 429, [['Artemisia', 'bi']], TITLE);

// ---------- G. siphonifera ----------
area(siphonifera, ySiph, '#be1e2d');
bracket(ySiph, 6, 0, 359, -1, '#be1e2d');
label(322, 532, '6', NUM); label(319, 600, '%', NUM); label(333, 660, '0', NUM);
label(1191, 587, [['G. siphoniphera', 'bi']], TITLE);

// ---------- G. inflata ----------
area(inflata, yInfl, '#0a8f45');
bracket(yInfl, 14, 0, 1045, 1, '#1f9a48');
label(1068, 672, '14', NUM); label(1093, 737, '%', NUM); label(1062, 806, '0', NUM);
label(278, 712, [['G. inflata', 'bi']], TITLE);

// ---------- N. incompta ----------
area(incompta, yIncompta, '#fff22d');
bracket(yIncompta, 80, 0, 359, -1, '#c8452b');
label(325, 831, '80', NUM); label(317, 901, '%', NUM); label(331, 957, '0', NUM);
label(1179, 903, [['N. incompta', 'bi']], TITLE);

// ---------- G. bulloides ----------
area(bulloides, yBull, '#ef4136');
bracket(yBull, 50, 0, 1060, 1, '#e8312a');
label(1081, 975, '50', NUM); label(1104, 1040, '%', NUM); label(1073, 1109, '0', NUM);
label(296, 1054, [['G. bulloides', 'bi']], TITLE);

// ---------- warm water foram taxa ----------
area(warmForam, yForam, '#be1e2d');
bracket(yForam, 30, 0, 356, -1, '#be1e2d');
label(322, 1118, '30', NUM); label(314, 1190, '%', NUM); label(330, 1247, '0', NUM);
label(1155, 1188, 'warm water', 36); label(1155, 1233, 'foram taxa', 36);

// ---------- warm water coccolith taxa ----------
area(coccoAbs, yCoccoAbs, '#be1e2d', '#333');
line(coccoPct, yCoccoPct, NAVY, 2.5);
bracket(yCoccoPct, 3, 0, 1059, 1, BLUEGREY);
bracket(yCoccoAbs, 7, 0, 1157, 1, '#d9442a');
label(1087, 1271, '3', NUM); label(1092, 1323, '%', NUM); label(1087, 1392, '0', NUM);
label(1182, 1263, ['7 x10', ['7', 'sup']], 24, 'start');
label(1182, 1323, ['N g', ['-1', 'sup']], 29, 'start');
label(1179, 1392, '0', NUM);
label(291, 1327, 'warm water', 36); label(291, 1371, 'coccolith taxa', 36);

// ---------- H. carteri ----------
area(carteriAbs, yCarAbs, '#00aeef', '#111');
line(carteriPct, yCarPct, NAVY, 2.5);
bracket(yCarAbs, 2, 0, 252, -1, '#1aa6c8');
bracket(yCarPct, 14, 0, 354, -1, BLUEGREY);
label(202, 1421, ['2 x10', ['8', 'sup']], 24);
label(197, 1470, ['N g', ['-1', 'sup']], 29);
label(224, 1540, '0', NUM);
label(322, 1421, '14', NUM); label(315, 1477, '%', NUM); label(325, 1540, '0', NUM);
label(1155, 1492, [['H. carteri', 'bi']], TITLE);

// ---------- E. huxleyi > 4 um ----------
area(huxLargeAbs, yHuxLAbs, '#00aeef', '#555');
line(huxLargePct, yHuxLPct, '#262a6e', 2.5);
bracket(yHuxLPct, 40, 0, 1059, 1, BLUEGREY);
bracket(yHuxLAbs, 6, 0, 1155, 1, '#1aa6c8');
label(1093, 1566, '40', NUM); label(1097, 1636, '%', NUM); label(1084, 1703, '0', NUM);
label(1172, 1576, ['6 x10', ['8', 'sup']], 24, 'start');
label(1182, 1632, ['N g', ['-1', 'sup']], 29, 'start');
label(1177, 1703, '0', NUM);
label(265, 1657, [['E. huxleyi', 'bi'], ' > 4\u00b5m'], TITLE);

// ---------- G. oceanica ----------
area(oceanicaAbs, yOceAbs, '#f15a29');
line(oceanicaPct, yOcePct, NAVY, 2.5);
bracket(yOceAbs, 3.5, 0, 272, -1, '#f15a29');
bracket(yOcePct, 15, 0, 356, -1, BLUEGREY);
label(210, 1733, ['3.5x10', ['8', 'sup']], 24);
label(197, 1791, ['N g', ['-1', 'sup']], 29);
label(250, 1863, '0', NUM);
label(328, 1733, '15', NUM); label(315, 1791, '%', NUM); label(335, 1861, '0', NUM);
label(1171, 1810, [['G. oceanica', 'bi']], TITLE);

// ---------- E. huxleyi < 4 um ----------
area(huxSmallAbs, yHuxSAbs, '#0a8f45');
line(huxSmallPct, yHuxSPct, NAVY, 2.5);
bracket(yHuxSPct, 60, 0, 1063, 1, BLUEGREY);
bracket(yHuxSAbs, 14, 0, 1155, 1, '#1f9a48', 6);
label(1087, 1888, '60', NUM); label(1107, 1953, '%', NUM); label(1087, 2015, '0', NUM);
label(1165, 1888, ['14 x10', ['8', 'sup']], 24, 'start');
label(1182, 1955, ['N g', ['-1', 'sup']], 29, 'start');
label(1172, 2015, '0', NUM);
label(238, 1956, [['E. huxleyi', 'bi'], ' < 4\u00b5m'], TITLE);

// ---------- NGRIP and SST ----------
line(ngrip, yNgrip, '#111', 2.5, d3.curveStepAfter);
line(sst, ySST, '#111', 2.2);
bracket(yNgrip, -44, -34, 1100, 1, '#444');
label(1113, 2047, '-44', NUM, 'start'); label(1113, 2181, '-34', NUM, 'start');
label(1203, 2103, 'NGRIP', 37); label(1208, 2146, 'core', 37);
label(1185, 2230, 'SST \u00b0C', 36);
label(1189, 2273, 'di-tri alkenones', 36);
label(1189, 2304, '(Martrat et al., 2014)', 24);
label(274, 2072, [['G. bulloides', 'i'], ' \u03b4', ['18', 'sup'], 'O'], 35);
label(274, 2118, 'per mil PDB', 35);
label(337, 2230, 'T \u00b0C', 32);

// SST axis (left)
const sstAxis = d3.axisLeft(ySST).tickValues([10, 15, 20])
  .tickFormat(d => (d === 15 ? '' : d)).tickSize(7).tickSizeOuter(0).tickPadding(10);
const sa = G.append('g').attr('transform', 'translate(403,0)').call(sstAxis);
sa.select('.domain').attr('stroke', '#333').attr('stroke-width', 2);
sa.selectAll('.tick line').attr('stroke', '#333').attr('stroke-width', 2);
sa.selectAll('.tick text').attr('font-family', FONT).attr('font-size', NUM).attr('fill', '#111');

// age axis
const ageAxis = d3.axisBottom(x).tickValues(ageTicks).tickSize(13).tickSizeOuter(0).tickPadding(8);
const ax = G.append('g').attr('transform', `translate(0,${AXIS_Y})`).call(ageAxis);
ax.select('.domain').attr('stroke', '#333').attr('stroke-width', 2.5);
ax.selectAll('.tick line').attr('stroke', '#333').attr('stroke-width', 2);
ax.selectAll('.tick text').attr('font-family', FONT).attr('font-size', 28).attr('fill', '#111');
label(731, 2382, 'Age ka', 34);

// interval annotations
const B = { 'font-weight': 'bold' };
label(606, 2073, 'GS 1', 18, 'middle', B);
label(637, 2061, 'a', 15, 'middle', B);
label(653, 2080, 'b', 15, 'middle', B);
label(680, 2061, 'c', 15, 'middle', B);
label(703, 2080, 'd', 15, 'middle', B);
label(721, 2058, 'e', 15, 'middle', B);
label(773, 2089, 'GS 2', 18, 'middle', B);
label(680, 2156, 'GI 1', 18, 'middle', B);
label(463, 2186, 'Holocene', 17, 'middle', B);
label(592, 2187, 'b', 16, 'middle', B);
label(613, 2187, 'a', 16, 'middle', B);
label(552, 2226, 'T1b', 18, 'middle', B);
label(745, 2214, 'T1a', 18, 'middle', B);
label(604, 2223, 'YD', 30);
label(682, 2269, 'BA', 31);
label(820, 2212, 'HS1', 30);
label(960, 2212, 'LGP', 30);

// top interval names
label(697, 155, 'Older Dryas', 14, 'middle', B);
label(659, 177, 'G1c', 14, 'middle', B);
label(659, 198, 'Allerod', 14, 'middle', B);
label(722, 177, 'G1e', 14, 'middle', B);
label(723, 198, 'Bolling', 14, 'middle', B);
const ox = x(13.89);
G.append('path').attr('d', `M${ox},158V174`).attr('stroke', '#111').attr('stroke-width', 1.5);
G.append('path').attr('d', `M${ox - 4},172L${ox},182L${ox + 4},172Z`).attr('fill', '#111');

// ---------- title box ----------
G.append('rect').attr('x', 704).attr('y', -10).attr('width', 800).attr('height', 108)
  .attr('fill', '#fff').attr('stroke', '#000').attr('stroke-width', 4.5);
label(785, 60, 'BA', 187, 'start');
G.append('rect').attr('x', 1136).attr('y', 0).attr('width', 5).attr('height', 45).attr('fill', '#111');
label(1248, 60, 'YD', 187, 'start');
</script>
</body>
</html>
